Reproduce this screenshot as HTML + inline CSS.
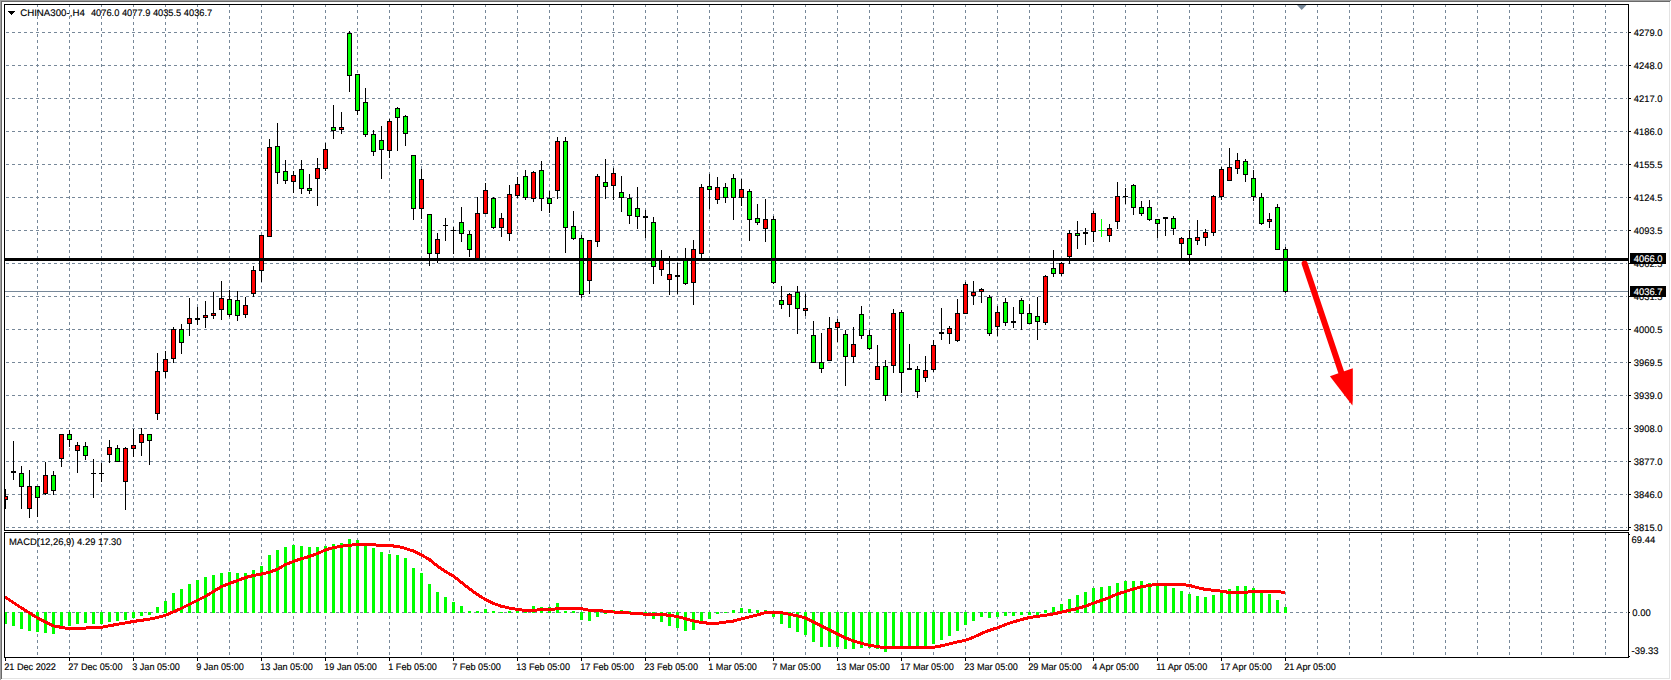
<!DOCTYPE html>
<html lang="en"><head><meta charset="utf-8"><title>CHINA300-,H4</title>
<style>html,body{margin:0;padding:0;background:#fff;overflow:hidden}svg{display:block}text{font-family:"Liberation Sans",Arial,sans-serif;font-size:9.5px;fill:#000;stroke:#000;stroke-width:.15px}.g{stroke:#778899;stroke-width:1;stroke-dasharray:3 3;fill:none}.k{fill:#000}.r{fill:#f00}.l{fill:#0f0}.w{fill:#fff}</style></head><body>
<svg width="1671" height="680" viewBox="0 0 1671 680" shape-rendering="crispEdges">
<rect width="1671" height="680" fill="#fff"/>
<rect x="0" y="0" width="1671" height="1" fill="#a0a0a0"/><rect x="0" y="0" width="1" height="680" fill="#a0a0a0"/>
<rect x="1" y="1" width="1669" height="1" fill="#696969"/><rect x="1" y="1" width="1" height="678" fill="#696969"/>
<rect x="1669" y="2" width="1" height="677" fill="#e3e3e3"/><rect x="2" y="678" width="1668" height="1" fill="#e3e3e3"/>
<g class="g">
<line x1="6" y1="32.5" x2="1627" y2="32.5"/>
<line x1="6" y1="65.5" x2="1627" y2="65.5"/>
<line x1="6" y1="98.5" x2="1627" y2="98.5"/>
<line x1="6" y1="131.5" x2="1627" y2="131.5"/>
<line x1="6" y1="164.5" x2="1627" y2="164.5"/>
<line x1="6" y1="197.5" x2="1627" y2="197.5"/>
<line x1="6" y1="230.5" x2="1627" y2="230.5"/>
<line x1="6" y1="263.5" x2="1627" y2="263.5"/>
<line x1="6" y1="296.5" x2="1627" y2="296.5"/>
<line x1="6" y1="329.5" x2="1627" y2="329.5"/>
<line x1="6" y1="362.5" x2="1627" y2="362.5"/>
<line x1="6" y1="395.5" x2="1627" y2="395.5"/>
<line x1="6" y1="428.5" x2="1627" y2="428.5"/>
<line x1="6" y1="461.5" x2="1627" y2="461.5"/>
<line x1="6" y1="494.5" x2="1627" y2="494.5"/>
<line x1="6" y1="527.5" x2="1627" y2="527.5"/>
<line x1="6" y1="612.5" x2="1627" y2="612.5"/>
<line x1="37.5" y1="4" x2="37.5" y2="657"/>
<line x1="69.5" y1="4" x2="69.5" y2="657"/>
<line x1="101.5" y1="4" x2="101.5" y2="657"/>
<line x1="133.5" y1="4" x2="133.5" y2="657"/>
<line x1="165.5" y1="4" x2="165.5" y2="657"/>
<line x1="197.5" y1="4" x2="197.5" y2="657"/>
<line x1="229.5" y1="4" x2="229.5" y2="657"/>
<line x1="261.5" y1="4" x2="261.5" y2="657"/>
<line x1="293.5" y1="4" x2="293.5" y2="657"/>
<line x1="325.5" y1="4" x2="325.5" y2="657"/>
<line x1="357.5" y1="4" x2="357.5" y2="657"/>
<line x1="389.5" y1="4" x2="389.5" y2="657"/>
<line x1="421.5" y1="4" x2="421.5" y2="657"/>
<line x1="453.5" y1="4" x2="453.5" y2="657"/>
<line x1="485.5" y1="4" x2="485.5" y2="657"/>
<line x1="517.5" y1="4" x2="517.5" y2="657"/>
<line x1="549.5" y1="4" x2="549.5" y2="657"/>
<line x1="581.5" y1="4" x2="581.5" y2="657"/>
<line x1="613.5" y1="4" x2="613.5" y2="657"/>
<line x1="645.5" y1="4" x2="645.5" y2="657"/>
<line x1="677.5" y1="4" x2="677.5" y2="657"/>
<line x1="709.5" y1="4" x2="709.5" y2="657"/>
<line x1="741.5" y1="4" x2="741.5" y2="657"/>
<line x1="773.5" y1="4" x2="773.5" y2="657"/>
<line x1="805.5" y1="4" x2="805.5" y2="657"/>
<line x1="837.5" y1="4" x2="837.5" y2="657"/>
<line x1="869.5" y1="4" x2="869.5" y2="657"/>
<line x1="901.5" y1="4" x2="901.5" y2="657"/>
<line x1="933.5" y1="4" x2="933.5" y2="657"/>
<line x1="965.5" y1="4" x2="965.5" y2="657"/>
<line x1="997.5" y1="4" x2="997.5" y2="657"/>
<line x1="1029.5" y1="4" x2="1029.5" y2="657"/>
<line x1="1061.5" y1="4" x2="1061.5" y2="657"/>
<line x1="1093.5" y1="4" x2="1093.5" y2="657"/>
<line x1="1125.5" y1="4" x2="1125.5" y2="657"/>
<line x1="1157.5" y1="4" x2="1157.5" y2="657"/>
<line x1="1189.5" y1="4" x2="1189.5" y2="657"/>
<line x1="1221.5" y1="4" x2="1221.5" y2="657"/>
<line x1="1253.5" y1="4" x2="1253.5" y2="657"/>
<line x1="1285.5" y1="4" x2="1285.5" y2="657"/>
<line x1="1317.5" y1="4" x2="1317.5" y2="657"/>
<line x1="1349.5" y1="4" x2="1349.5" y2="657"/>
<line x1="1381.5" y1="4" x2="1381.5" y2="657"/>
<line x1="1413.5" y1="4" x2="1413.5" y2="657"/>
<line x1="1445.5" y1="4" x2="1445.5" y2="657"/>
<line x1="1477.5" y1="4" x2="1477.5" y2="657"/>
<line x1="1509.5" y1="4" x2="1509.5" y2="657"/>
<line x1="1541.5" y1="4" x2="1541.5" y2="657"/>
<line x1="1573.5" y1="4" x2="1573.5" y2="657"/>
<line x1="1605.5" y1="4" x2="1605.5" y2="657"/>
</g>
<rect x="5" y="291" width="1623" height="1" fill="#778899"/>
<g class="l">
<rect x="4" y="612" width="3" height="12"/>
<rect x="12" y="612" width="3" height="14"/>
<rect x="20" y="612" width="3" height="17"/>
<rect x="28" y="612" width="3" height="19"/>
<rect x="36" y="612" width="3" height="20"/>
<rect x="44" y="612" width="3" height="21"/>
<rect x="52" y="612" width="3" height="22"/>
<rect x="60" y="612" width="3" height="17"/>
<rect x="68" y="612" width="3" height="14"/>
<rect x="76" y="612" width="3" height="12"/>
<rect x="84" y="612" width="3" height="11"/>
<rect x="92" y="612" width="3" height="12"/>
<rect x="100" y="612" width="3" height="12"/>
<rect x="108" y="612" width="3" height="10"/>
<rect x="116" y="612" width="3" height="9"/>
<rect x="124" y="612" width="3" height="8"/>
<rect x="132" y="612" width="3" height="6"/>
<rect x="140" y="612" width="3" height="4"/>
<rect x="148" y="612" width="3" height="3"/>
<rect x="156" y="607" width="3" height="6"/>
<rect x="164" y="601" width="3" height="12"/>
<rect x="172" y="593" width="3" height="20"/>
<rect x="180" y="589" width="3" height="24"/>
<rect x="188" y="584" width="3" height="29"/>
<rect x="196" y="580" width="3" height="33"/>
<rect x="204" y="577" width="3" height="36"/>
<rect x="212" y="575" width="3" height="38"/>
<rect x="220" y="573" width="3" height="40"/>
<rect x="228" y="572" width="3" height="41"/>
<rect x="236" y="573" width="3" height="40"/>
<rect x="244" y="573" width="3" height="40"/>
<rect x="252" y="570" width="3" height="43"/>
<rect x="260" y="566" width="3" height="47"/>
<rect x="268" y="555" width="3" height="58"/>
<rect x="276" y="550" width="3" height="63"/>
<rect x="284" y="547" width="3" height="66"/>
<rect x="292" y="545" width="3" height="68"/>
<rect x="300" y="546" width="3" height="67"/>
<rect x="308" y="547" width="3" height="66"/>
<rect x="316" y="547" width="3" height="66"/>
<rect x="324" y="546" width="3" height="67"/>
<rect x="332" y="544" width="3" height="69"/>
<rect x="340" y="543" width="3" height="70"/>
<rect x="348" y="539" width="3" height="74"/>
<rect x="356" y="540" width="3" height="73"/>
<rect x="364" y="545" width="3" height="68"/>
<rect x="372" y="548" width="3" height="65"/>
<rect x="380" y="552" width="3" height="61"/>
<rect x="388" y="554" width="3" height="59"/>
<rect x="396" y="555" width="3" height="58"/>
<rect x="404" y="558" width="3" height="55"/>
<rect x="412" y="568" width="3" height="45"/>
<rect x="420" y="573" width="3" height="40"/>
<rect x="428" y="584" width="3" height="29"/>
<rect x="436" y="592" width="3" height="21"/>
<rect x="444" y="597" width="3" height="16"/>
<rect x="452" y="602" width="3" height="11"/>
<rect x="460" y="606" width="3" height="7"/>
<rect x="468" y="611" width="3" height="2"/>
<rect x="476" y="611" width="3" height="2"/>
<rect x="484" y="609" width="3" height="4"/>
<rect x="492" y="611" width="3" height="2"/>
<rect x="500" y="612" width="3" height="1"/>
<rect x="508" y="611" width="3" height="2"/>
<rect x="516" y="610" width="3" height="3"/>
<rect x="524" y="610" width="3" height="3"/>
<rect x="532" y="606" width="3" height="7"/>
<rect x="540" y="607" width="3" height="6"/>
<rect x="548" y="607" width="3" height="6"/>
<rect x="556" y="603" width="3" height="10"/>
<rect x="564" y="611" width="3" height="2"/>
<rect x="572" y="611" width="3" height="2"/>
<rect x="580" y="612" width="3" height="8"/>
<rect x="588" y="612" width="3" height="9"/>
<rect x="596" y="612" width="3" height="5"/>
<rect x="604" y="612" width="3" height="2"/>
<rect x="612" y="610" width="3" height="3"/>
<rect x="620" y="610" width="3" height="3"/>
<rect x="628" y="611" width="3" height="2"/>
<rect x="636" y="612" width="3" height="1"/>
<rect x="644" y="612" width="3" height="2"/>
<rect x="652" y="612" width="3" height="7"/>
<rect x="660" y="612" width="3" height="10"/>
<rect x="668" y="612" width="3" height="14"/>
<rect x="676" y="612" width="3" height="16"/>
<rect x="684" y="612" width="3" height="19"/>
<rect x="692" y="612" width="3" height="18"/>
<rect x="700" y="612" width="3" height="9"/>
<rect x="708" y="612" width="3" height="7"/>
<rect x="716" y="612" width="3" height="2"/>
<rect x="724" y="612" width="3" height="1"/>
<rect x="732" y="610" width="3" height="3"/>
<rect x="740" y="608" width="3" height="5"/>
<rect x="748" y="609" width="3" height="4"/>
<rect x="756" y="610" width="3" height="3"/>
<rect x="764" y="610" width="3" height="3"/>
<rect x="772" y="612" width="3" height="5"/>
<rect x="780" y="612" width="3" height="12"/>
<rect x="788" y="612" width="3" height="16"/>
<rect x="796" y="612" width="3" height="20"/>
<rect x="804" y="612" width="3" height="23"/>
<rect x="812" y="612" width="3" height="30"/>
<rect x="820" y="612" width="3" height="35"/>
<rect x="828" y="612" width="3" height="35"/>
<rect x="836" y="612" width="3" height="35"/>
<rect x="844" y="612" width="3" height="37"/>
<rect x="852" y="612" width="3" height="37"/>
<rect x="860" y="612" width="3" height="36"/>
<rect x="868" y="612" width="3" height="36"/>
<rect x="876" y="612" width="3" height="37"/>
<rect x="884" y="612" width="3" height="40"/>
<rect x="892" y="612" width="3" height="36"/>
<rect x="900" y="612" width="3" height="37"/>
<rect x="908" y="612" width="3" height="37"/>
<rect x="916" y="612" width="3" height="36"/>
<rect x="924" y="612" width="3" height="35"/>
<rect x="932" y="612" width="3" height="32"/>
<rect x="940" y="612" width="3" height="28"/>
<rect x="948" y="612" width="3" height="24"/>
<rect x="956" y="612" width="3" height="19"/>
<rect x="964" y="612" width="3" height="13"/>
<rect x="972" y="612" width="3" height="9"/>
<rect x="980" y="612" width="3" height="5"/>
<rect x="988" y="612" width="3" height="6"/>
<rect x="996" y="612" width="3" height="5"/>
<rect x="1004" y="612" width="3" height="4"/>
<rect x="1012" y="612" width="3" height="4"/>
<rect x="1020" y="612" width="3" height="3"/>
<rect x="1028" y="612" width="3" height="3"/>
<rect x="1036" y="612" width="3" height="3"/>
<rect x="1044" y="610" width="3" height="3"/>
<rect x="1052" y="607" width="3" height="6"/>
<rect x="1060" y="604" width="3" height="9"/>
<rect x="1068" y="599" width="3" height="14"/>
<rect x="1076" y="595" width="3" height="18"/>
<rect x="1084" y="592" width="3" height="21"/>
<rect x="1092" y="588" width="3" height="25"/>
<rect x="1100" y="587" width="3" height="26"/>
<rect x="1108" y="586" width="3" height="27"/>
<rect x="1116" y="583" width="3" height="30"/>
<rect x="1124" y="581" width="3" height="32"/>
<rect x="1132" y="581" width="3" height="32"/>
<rect x="1140" y="581" width="3" height="32"/>
<rect x="1148" y="583" width="3" height="30"/>
<rect x="1156" y="584" width="3" height="29"/>
<rect x="1164" y="585" width="3" height="28"/>
<rect x="1172" y="588" width="3" height="25"/>
<rect x="1180" y="591" width="3" height="22"/>
<rect x="1188" y="594" width="3" height="19"/>
<rect x="1196" y="596" width="3" height="17"/>
<rect x="1204" y="597" width="3" height="16"/>
<rect x="1212" y="595" width="3" height="18"/>
<rect x="1220" y="591" width="3" height="22"/>
<rect x="1228" y="589" width="3" height="24"/>
<rect x="1236" y="586" width="3" height="27"/>
<rect x="1244" y="586" width="3" height="27"/>
<rect x="1252" y="588" width="3" height="25"/>
<rect x="1260" y="592" width="3" height="21"/>
<rect x="1268" y="594" width="3" height="19"/>
<rect x="1276" y="600" width="3" height="13"/>
<rect x="1284" y="607" width="3" height="6"/>
</g>
<rect x="1101" y="219" width="1" height="18" fill="#0f0"/><rect x="1099" y="230" width="5" height="1" fill="#0f0"/>
<g class="k"><rect x="5" y="489" width="1" height="20"/><rect x="13" y="441" width="1" height="39"/><rect x="21" y="466" width="1" height="43"/><rect x="29" y="470" width="1" height="48"/><rect x="37" y="486" width="1" height="31"/><rect x="45" y="462" width="1" height="33"/><rect x="53" y="471" width="1" height="24"/><rect x="61" y="434" width="1" height="33"/><rect x="69" y="430" width="1" height="17"/><rect x="77" y="442" width="1" height="31"/><rect x="85" y="442" width="1" height="18"/><rect x="93" y="459" width="1" height="39"/><rect x="101" y="463" width="1" height="19"/><rect x="109" y="440" width="1" height="23"/><rect x="117" y="445" width="1" height="17"/><rect x="125" y="447" width="1" height="63"/><rect x="133" y="429" width="1" height="28"/><rect x="141" y="428" width="1" height="28"/><rect x="149" y="434" width="1" height="31"/><rect x="157" y="353" width="1" height="67"/><rect x="165" y="351" width="1" height="27"/><rect x="173" y="327" width="1" height="36"/><rect x="181" y="324" width="1" height="30"/><rect x="189" y="298" width="1" height="38"/><rect x="197" y="307" width="1" height="18"/><rect x="205" y="301" width="1" height="27"/><rect x="213" y="292" width="1" height="27"/><rect x="221" y="281" width="1" height="39"/><rect x="229" y="290" width="1" height="27"/><rect x="237" y="291" width="1" height="30"/><rect x="245" y="297" width="1" height="21"/><rect x="253" y="266" width="1" height="31"/><rect x="261" y="235" width="1" height="47"/><rect x="269" y="139" width="1" height="98"/><rect x="277" y="123" width="1" height="61"/><rect x="285" y="160" width="1" height="24"/><rect x="293" y="171" width="1" height="22"/><rect x="301" y="160" width="1" height="34"/><rect x="309" y="174" width="1" height="20"/><rect x="317" y="158" width="1" height="48"/><rect x="325" y="143" width="1" height="28"/><rect x="333" y="105" width="1" height="34"/><rect x="341" y="112" width="1" height="22"/><rect x="349" y="31" width="1" height="61"/><rect x="357" y="74" width="1" height="41"/><rect x="365" y="88" width="1" height="49"/><rect x="373" y="130" width="1" height="26"/><rect x="381" y="126" width="1" height="53"/><rect x="389" y="119" width="1" height="39"/><rect x="397" y="107" width="1" height="44"/><rect x="405" y="115" width="1" height="31"/><rect x="413" y="155" width="1" height="65"/><rect x="421" y="169" width="1" height="50"/><rect x="429" y="214" width="1" height="52"/><rect x="437" y="233" width="1" height="30"/><rect x="445" y="218" width="1" height="23"/><rect x="453" y="227" width="1" height="27"/><rect x="461" y="207" width="1" height="35"/><rect x="469" y="231" width="1" height="26"/><rect x="477" y="197" width="1" height="63"/><rect x="485" y="183" width="1" height="31"/><rect x="493" y="197" width="1" height="32"/><rect x="501" y="213" width="1" height="24"/><rect x="509" y="185" width="1" height="56"/><rect x="517" y="177" width="1" height="21"/><rect x="525" y="170" width="1" height="30"/><rect x="533" y="171" width="1" height="31"/><rect x="541" y="161" width="1" height="50"/><rect x="549" y="191" width="1" height="22"/><rect x="557" y="137" width="1" height="62"/><rect x="565" y="137" width="1" height="116"/><rect x="573" y="211" width="1" height="29"/><rect x="581" y="235" width="1" height="63"/><rect x="589" y="240" width="1" height="54"/><rect x="597" y="174" width="1" height="73"/><rect x="605" y="159" width="1" height="40"/><rect x="613" y="168" width="1" height="32"/><rect x="621" y="176" width="1" height="36"/><rect x="629" y="194" width="1" height="30"/><rect x="637" y="187" width="1" height="42"/><rect x="645" y="210" width="1" height="28"/><rect x="653" y="217" width="1" height="67"/><rect x="661" y="250" width="1" height="26"/><rect x="669" y="256" width="1" height="39"/><rect x="677" y="263" width="1" height="31"/><rect x="685" y="248" width="1" height="37"/><rect x="693" y="240" width="1" height="65"/><rect x="701" y="184" width="1" height="74"/><rect x="709" y="174" width="1" height="35"/><rect x="717" y="177" width="1" height="27"/><rect x="725" y="183" width="1" height="20"/><rect x="733" y="174" width="1" height="46"/><rect x="741" y="179" width="1" height="27"/><rect x="749" y="189" width="1" height="52"/><rect x="757" y="204" width="1" height="21"/><rect x="765" y="199" width="1" height="43"/><rect x="773" y="216" width="1" height="68"/><rect x="781" y="286" width="1" height="23"/><rect x="789" y="293" width="1" height="24"/><rect x="797" y="286" width="1" height="48"/><rect x="805" y="294" width="1" height="22"/><rect x="813" y="321" width="1" height="42"/><rect x="821" y="333" width="1" height="40"/><rect x="829" y="317" width="1" height="44"/><rect x="837" y="319" width="1" height="23"/><rect x="845" y="330" width="1" height="56"/><rect x="853" y="327" width="1" height="36"/><rect x="861" y="306" width="1" height="33"/><rect x="869" y="330" width="1" height="20"/><rect x="877" y="345" width="1" height="35"/><rect x="885" y="360" width="1" height="41"/><rect x="893" y="309" width="1" height="64"/><rect x="901" y="310" width="1" height="83"/><rect x="909" y="344" width="1" height="26"/><rect x="917" y="366" width="1" height="32"/><rect x="925" y="356" width="1" height="26"/><rect x="933" y="340" width="1" height="32"/><rect x="941" y="308" width="1" height="32"/><rect x="949" y="326" width="1" height="18"/><rect x="957" y="299" width="1" height="43"/><rect x="965" y="282" width="1" height="32"/><rect x="973" y="281" width="1" height="24"/><rect x="981" y="288" width="1" height="15"/><rect x="989" y="295" width="1" height="41"/><rect x="997" y="306" width="1" height="30"/><rect x="1005" y="298" width="1" height="28"/><rect x="1013" y="307" width="1" height="21"/><rect x="1021" y="298" width="1" height="32"/><rect x="1029" y="304" width="1" height="20"/><rect x="1037" y="297" width="1" height="43"/><rect x="1045" y="275" width="1" height="50"/><rect x="1053" y="250" width="1" height="27"/><rect x="1061" y="262" width="1" height="14"/><rect x="1069" y="230" width="1" height="34"/><rect x="1077" y="221" width="1" height="28"/><rect x="1085" y="228" width="1" height="17"/><rect x="1093" y="211" width="1" height="31"/><rect x="1109" y="224" width="1" height="18"/><rect x="1117" y="182" width="1" height="47"/><rect x="1125" y="188" width="1" height="16"/><rect x="1133" y="184" width="1" height="31"/><rect x="1141" y="201" width="1" height="15"/><rect x="1149" y="200" width="1" height="21"/><rect x="1157" y="219" width="1" height="19"/><rect x="1165" y="217" width="1" height="19"/><rect x="1173" y="216" width="1" height="19"/><rect x="1181" y="237" width="1" height="21"/><rect x="1189" y="230" width="1" height="35"/><rect x="1197" y="220" width="1" height="25"/><rect x="1205" y="229" width="1" height="17"/><rect x="1213" y="195" width="1" height="41"/><rect x="1221" y="167" width="1" height="33"/><rect x="1229" y="148" width="1" height="33"/><rect x="1237" y="153" width="1" height="21"/><rect x="1245" y="159" width="1" height="23"/><rect x="1253" y="170" width="1" height="31"/><rect x="1261" y="193" width="1" height="32"/><rect x="1269" y="213" width="1" height="15"/><rect x="1277" y="204" width="1" height="46"/><rect x="1285" y="247" width="1" height="46"/><rect x="3" y="496" width="5" height="4"/><rect x="11" y="471" width="5" height="2"/><rect x="19" y="473" width="5" height="14"/><rect x="27" y="486" width="5" height="23"/><rect x="35" y="486" width="5" height="12"/><rect x="43" y="475" width="5" height="19"/><rect x="51" y="475" width="5" height="16"/><rect x="59" y="434" width="5" height="25"/><rect x="67" y="434" width="5" height="6"/><rect x="75" y="445" width="5" height="6"/><rect x="83" y="446" width="5" height="10"/><rect x="91" y="473" width="5" height="1"/><rect x="99" y="473" width="5" height="1"/><rect x="107" y="447" width="5" height="8"/><rect x="115" y="448" width="5" height="14"/><rect x="123" y="448" width="5" height="34"/><rect x="131" y="445" width="5" height="4"/><rect x="139" y="434" width="5" height="9"/><rect x="147" y="434" width="5" height="7"/><rect x="155" y="371" width="5" height="43"/><rect x="163" y="359" width="5" height="13"/><rect x="171" y="329" width="5" height="30"/><rect x="179" y="329" width="5" height="14"/><rect x="187" y="318" width="5" height="6"/><rect x="195" y="318" width="5" height="2"/><rect x="203" y="315" width="5" height="3"/><rect x="211" y="313" width="5" height="3"/><rect x="219" y="298" width="5" height="12"/><rect x="227" y="299" width="5" height="16"/><rect x="235" y="300" width="5" height="16"/><rect x="243" y="305" width="5" height="10"/><rect x="251" y="270" width="5" height="24"/><rect x="259" y="235" width="5" height="36"/><rect x="267" y="147" width="5" height="90"/><rect x="275" y="146" width="5" height="27"/><rect x="283" y="171" width="5" height="10"/><rect x="291" y="175" width="5" height="7"/><rect x="299" y="169" width="5" height="20"/><rect x="307" y="188" width="5" height="3"/><rect x="315" y="168" width="5" height="11"/><rect x="323" y="149" width="5" height="20"/><rect x="331" y="127" width="5" height="4"/><rect x="339" y="127" width="5" height="3"/><rect x="347" y="33" width="5" height="43"/><rect x="355" y="74" width="5" height="37"/><rect x="363" y="102" width="5" height="33"/><rect x="371" y="134" width="5" height="18"/><rect x="379" y="140" width="5" height="10"/><rect x="387" y="121" width="5" height="30"/><rect x="395" y="108" width="5" height="10"/><rect x="403" y="116" width="5" height="18"/><rect x="411" y="155" width="5" height="54"/><rect x="419" y="179" width="5" height="30"/><rect x="427" y="214" width="5" height="40"/><rect x="435" y="239" width="5" height="15"/><rect x="443" y="225" width="5" height="1"/><rect x="451" y="230" width="5" height="1"/><rect x="459" y="222" width="5" height="12"/><rect x="467" y="234" width="5" height="16"/><rect x="475" y="213" width="5" height="47"/><rect x="483" y="190" width="5" height="24"/><rect x="491" y="198" width="5" height="30"/><rect x="499" y="218" width="5" height="10"/><rect x="507" y="194" width="5" height="40"/><rect x="515" y="184" width="5" height="12"/><rect x="523" y="176" width="5" height="22"/><rect x="531" y="172" width="5" height="27"/><rect x="539" y="170" width="5" height="29"/><rect x="547" y="198" width="5" height="6"/><rect x="555" y="141" width="5" height="50"/><rect x="563" y="141" width="5" height="87"/><rect x="571" y="226" width="5" height="13"/><rect x="579" y="238" width="5" height="57"/><rect x="587" y="240" width="5" height="41"/><rect x="595" y="176" width="5" height="66"/><rect x="603" y="182" width="5" height="5"/><rect x="611" y="173" width="5" height="13"/><rect x="619" y="192" width="5" height="6"/><rect x="627" y="198" width="5" height="18"/><rect x="635" y="208" width="5" height="9"/><rect x="643" y="216" width="5" height="2"/><rect x="651" y="222" width="5" height="45"/><rect x="659" y="259" width="5" height="11"/><rect x="667" y="274" width="5" height="6"/><rect x="675" y="275" width="5" height="2"/><rect x="683" y="259" width="5" height="25"/><rect x="691" y="249" width="5" height="34"/><rect x="699" y="187" width="5" height="67"/><rect x="707" y="186" width="5" height="4"/><rect x="715" y="187" width="5" height="13"/><rect x="723" y="187" width="5" height="11"/><rect x="731" y="178" width="5" height="20"/><rect x="739" y="189" width="5" height="9"/><rect x="747" y="191" width="5" height="29"/><rect x="755" y="218" width="5" height="5"/><rect x="763" y="219" width="5" height="10"/><rect x="771" y="219" width="5" height="64"/><rect x="779" y="300" width="5" height="5"/><rect x="787" y="294" width="5" height="11"/><rect x="795" y="292" width="5" height="17"/><rect x="803" y="308" width="5" height="3"/><rect x="811" y="335" width="5" height="28"/><rect x="819" y="362" width="5" height="7"/><rect x="827" y="328" width="5" height="33"/><rect x="835" y="322" width="5" height="6"/><rect x="843" y="334" width="5" height="23"/><rect x="851" y="344" width="5" height="13"/><rect x="859" y="314" width="5" height="22"/><rect x="867" y="335" width="5" height="14"/><rect x="875" y="366" width="5" height="14"/><rect x="883" y="366" width="5" height="30"/><rect x="891" y="313" width="5" height="53"/><rect x="899" y="312" width="5" height="61"/><rect x="907" y="368" width="5" height="2"/><rect x="915" y="369" width="5" height="23"/><rect x="923" y="370" width="5" height="8"/><rect x="931" y="345" width="5" height="25"/><rect x="939" y="332" width="5" height="2"/><rect x="947" y="328" width="5" height="6"/><rect x="955" y="313" width="5" height="28"/><rect x="963" y="284" width="5" height="30"/><rect x="971" y="292" width="5" height="4"/><rect x="979" y="289" width="5" height="3"/><rect x="987" y="297" width="5" height="37"/><rect x="995" y="312" width="5" height="15"/><rect x="1003" y="302" width="5" height="21"/><rect x="1011" y="321" width="5" height="2"/><rect x="1019" y="300" width="5" height="14"/><rect x="1027" y="313" width="5" height="11"/><rect x="1035" y="316" width="5" height="6"/><rect x="1043" y="276" width="5" height="47"/><rect x="1051" y="268" width="5" height="6"/><rect x="1059" y="263" width="5" height="11"/><rect x="1067" y="233" width="5" height="24"/><rect x="1075" y="233" width="5" height="3"/><rect x="1083" y="232" width="5" height="2"/><rect x="1091" y="213" width="5" height="19"/><rect x="1107" y="228" width="5" height="8"/><rect x="1115" y="196" width="5" height="26"/><rect x="1123" y="196" width="5" height="1"/><rect x="1131" y="185" width="5" height="23"/><rect x="1139" y="207" width="5" height="7"/><rect x="1147" y="207" width="5" height="13"/><rect x="1155" y="219" width="5" height="5"/><rect x="1163" y="217" width="5" height="2"/><rect x="1171" y="218" width="5" height="11"/><rect x="1179" y="238" width="5" height="6"/><rect x="1187" y="238" width="5" height="17"/><rect x="1195" y="237" width="5" height="4"/><rect x="1203" y="232" width="5" height="6"/><rect x="1211" y="196" width="5" height="37"/><rect x="1219" y="169" width="5" height="28"/><rect x="1227" y="167" width="5" height="14"/><rect x="1235" y="160" width="5" height="9"/><rect x="1243" y="161" width="5" height="14"/><rect x="1251" y="178" width="5" height="19"/><rect x="1259" y="197" width="5" height="27"/><rect x="1267" y="219" width="5" height="3"/><rect x="1275" y="207" width="5" height="43"/><rect x="1283" y="249" width="5" height="43"/></g>
<g class="r"><rect x="4" y="497" width="3" height="2"/><rect x="28" y="487" width="3" height="21"/><rect x="44" y="476" width="3" height="17"/><rect x="60" y="435" width="3" height="23"/><rect x="76" y="446" width="3" height="4"/><rect x="108" y="448" width="3" height="6"/><rect x="124" y="449" width="3" height="32"/><rect x="132" y="446" width="3" height="2"/><rect x="140" y="435" width="3" height="7"/><rect x="156" y="372" width="3" height="41"/><rect x="164" y="360" width="3" height="11"/><rect x="172" y="330" width="3" height="28"/><rect x="188" y="319" width="3" height="4"/><rect x="204" y="316" width="3" height="1"/><rect x="212" y="314" width="3" height="1"/><rect x="220" y="299" width="3" height="10"/><rect x="244" y="306" width="3" height="8"/><rect x="252" y="271" width="3" height="22"/><rect x="260" y="236" width="3" height="34"/><rect x="268" y="148" width="3" height="88"/><rect x="292" y="176" width="3" height="5"/><rect x="316" y="169" width="3" height="9"/><rect x="324" y="150" width="3" height="18"/><rect x="340" y="128" width="3" height="1"/><rect x="388" y="122" width="3" height="28"/><rect x="420" y="180" width="3" height="28"/><rect x="436" y="240" width="3" height="13"/><rect x="476" y="214" width="3" height="45"/><rect x="484" y="191" width="3" height="22"/><rect x="500" y="219" width="3" height="8"/><rect x="508" y="195" width="3" height="38"/><rect x="516" y="185" width="3" height="10"/><rect x="532" y="173" width="3" height="25"/><rect x="556" y="142" width="3" height="48"/><rect x="588" y="241" width="3" height="39"/><rect x="596" y="177" width="3" height="64"/><rect x="612" y="174" width="3" height="11"/><rect x="660" y="260" width="3" height="9"/><rect x="668" y="275" width="3" height="4"/><rect x="692" y="250" width="3" height="32"/><rect x="700" y="188" width="3" height="65"/><rect x="716" y="188" width="3" height="11"/><rect x="740" y="190" width="3" height="7"/><rect x="764" y="220" width="3" height="8"/><rect x="788" y="295" width="3" height="9"/><rect x="804" y="309" width="3" height="1"/><rect x="828" y="329" width="3" height="31"/><rect x="836" y="323" width="3" height="4"/><rect x="852" y="345" width="3" height="11"/><rect x="876" y="367" width="3" height="12"/><rect x="892" y="314" width="3" height="51"/><rect x="924" y="371" width="3" height="6"/><rect x="932" y="346" width="3" height="23"/><rect x="948" y="329" width="3" height="4"/><rect x="956" y="314" width="3" height="26"/><rect x="964" y="285" width="3" height="28"/><rect x="972" y="293" width="3" height="2"/><rect x="980" y="290" width="3" height="1"/><rect x="996" y="313" width="3" height="13"/><rect x="1044" y="277" width="3" height="45"/><rect x="1060" y="264" width="3" height="9"/><rect x="1068" y="234" width="3" height="22"/><rect x="1092" y="214" width="3" height="17"/><rect x="1108" y="229" width="3" height="6"/><rect x="1116" y="197" width="3" height="24"/><rect x="1180" y="239" width="3" height="4"/><rect x="1196" y="238" width="3" height="2"/><rect x="1204" y="233" width="3" height="4"/><rect x="1212" y="197" width="3" height="35"/><rect x="1220" y="170" width="3" height="26"/><rect x="1228" y="168" width="3" height="12"/><rect x="1236" y="161" width="3" height="7"/><rect x="1268" y="220" width="3" height="1"/></g>
<g class="l"><rect x="20" y="474" width="3" height="12"/><rect x="36" y="487" width="3" height="10"/><rect x="52" y="476" width="3" height="14"/><rect x="68" y="435" width="3" height="4"/><rect x="84" y="447" width="3" height="8"/><rect x="116" y="449" width="3" height="12"/><rect x="148" y="435" width="3" height="5"/><rect x="180" y="330" width="3" height="12"/><rect x="228" y="300" width="3" height="14"/><rect x="236" y="301" width="3" height="14"/><rect x="276" y="147" width="3" height="25"/><rect x="284" y="172" width="3" height="8"/><rect x="300" y="170" width="3" height="18"/><rect x="308" y="189" width="3" height="1"/><rect x="332" y="128" width="3" height="2"/><rect x="348" y="34" width="3" height="41"/><rect x="356" y="75" width="3" height="35"/><rect x="364" y="103" width="3" height="31"/><rect x="372" y="135" width="3" height="16"/><rect x="380" y="141" width="3" height="8"/><rect x="396" y="109" width="3" height="8"/><rect x="404" y="117" width="3" height="16"/><rect x="412" y="156" width="3" height="52"/><rect x="428" y="215" width="3" height="38"/><rect x="460" y="223" width="3" height="10"/><rect x="468" y="235" width="3" height="14"/><rect x="492" y="199" width="3" height="28"/><rect x="524" y="177" width="3" height="20"/><rect x="540" y="171" width="3" height="27"/><rect x="548" y="199" width="3" height="4"/><rect x="564" y="142" width="3" height="85"/><rect x="572" y="227" width="3" height="11"/><rect x="580" y="239" width="3" height="55"/><rect x="604" y="183" width="3" height="3"/><rect x="620" y="193" width="3" height="4"/><rect x="628" y="199" width="3" height="16"/><rect x="636" y="209" width="3" height="7"/><rect x="652" y="223" width="3" height="43"/><rect x="684" y="260" width="3" height="23"/><rect x="708" y="187" width="3" height="2"/><rect x="724" y="188" width="3" height="9"/><rect x="732" y="179" width="3" height="18"/><rect x="748" y="192" width="3" height="27"/><rect x="756" y="219" width="3" height="3"/><rect x="772" y="220" width="3" height="62"/><rect x="780" y="301" width="3" height="3"/><rect x="796" y="293" width="3" height="15"/><rect x="812" y="336" width="3" height="26"/><rect x="820" y="363" width="3" height="5"/><rect x="844" y="335" width="3" height="21"/><rect x="860" y="315" width="3" height="20"/><rect x="868" y="336" width="3" height="12"/><rect x="884" y="367" width="3" height="28"/><rect x="900" y="313" width="3" height="59"/><rect x="916" y="370" width="3" height="21"/><rect x="988" y="298" width="3" height="35"/><rect x="1004" y="303" width="3" height="19"/><rect x="1020" y="301" width="3" height="12"/><rect x="1028" y="314" width="3" height="9"/><rect x="1036" y="317" width="3" height="4"/><rect x="1052" y="269" width="3" height="4"/><rect x="1076" y="234" width="3" height="1"/><rect x="1132" y="186" width="3" height="21"/><rect x="1140" y="208" width="3" height="5"/><rect x="1148" y="208" width="3" height="11"/><rect x="1156" y="220" width="3" height="3"/><rect x="1172" y="219" width="3" height="9"/><rect x="1188" y="239" width="3" height="15"/><rect x="1244" y="162" width="3" height="12"/><rect x="1252" y="179" width="3" height="17"/><rect x="1260" y="198" width="3" height="25"/><rect x="1276" y="208" width="3" height="41"/><rect x="1284" y="250" width="3" height="41"/></g>
<rect class="w" x="2" y="5" width="2" height="660"/><rect class="w" x="4" y="531" width="1626" height="1"/>
<rect class="k" x="5" y="258" width="1624" height="3"/>
<polyline points="5.1,597.1 20.6,607.4 37.1,617.7 53.6,625.9 70.0,629.0 86.5,628.0 103.0,627.0 119.5,623.9 133.9,621.4 152.4,618.7 164.8,615.6 181.3,608.4 197.7,600.2 205.3,596.4 213.3,591.7 221.3,586.6 229.3,583.5 237.3,580.7 245.3,577.6 253.3,575.5 261.3,574.1 269.3,572.2 277.3,569.4 285.3,564.7 293.3,561.4 301.3,558.8 309.3,556.5 317.3,553.6 320.0,552.4 325.4,550.0 333.4,547.6 341.4,546.2 349.4,545.2 357.4,544.6 365.4,544.6 373.4,544.8 381.4,545.4 389.4,545.6 397.4,546.4 405.3,548.4 413.3,551.0 421.3,555.0 429.3,559.4 437.3,566.0 445.3,571.4 453.3,576.0 461.3,582.4 469.3,588.6 477.3,594.4 485.3,599.4 493.3,603.4 501.3,606.2 509.3,608.0 517.3,609.4 525.3,610.4 533.3,610.4 541.3,609.6 549.3,609.6 557.3,608.8 565.3,608.6 573.2,608.6 581.2,608.6 589.2,610.2 597.2,610.4 605.2,611.2 613.2,612.0 621.2,612.2 629.2,613.0 637.2,613.2 640.0,613.9 645.4,614.1 653.4,614.3 661.4,614.5 669.4,615.3 677.4,616.5 685.4,618.7 693.4,620.9 701.4,622.5 709.4,623.3 717.4,623.3 725.3,622.1 733.3,621.1 741.3,618.9 749.3,616.9 757.3,614.9 765.3,612.6 773.3,612.4 781.3,612.6 789.3,614.3 797.3,615.9 805.3,617.9 813.3,621.9 821.3,625.9 829.3,629.9 837.3,633.9 845.3,637.9 853.3,640.9 861.3,643.3 869.3,645.3 877.3,646.5 885.3,647.9 893.2,647.3 901.2,647.3 909.2,647.9 917.2,647.3 925.2,647.3 933.2,647.3 941.2,645.9 949.2,643.9 957.2,641.9 960.0,641.5 965.4,640.3 973.4,637.3 981.4,633.5 989.4,630.3 997.4,627.9 1005.4,624.5 1013.4,621.9 1021.4,619.5 1029.4,617.5 1037.4,616.3 1045.3,615.3 1053.3,613.9 1061.3,612.2 1069.3,610.4 1077.3,608.6 1085.3,606.2 1093.3,603.2 1101.3,600.4 1109.3,597.6 1117.3,594.0 1125.3,591.6 1133.3,589.0 1141.3,586.8 1149.3,585.4 1157.3,584.4 1165.3,584.4 1173.3,584.4 1181.3,584.4 1189.3,585.4 1197.3,587.6 1205.3,589.4 1213.2,590.2 1221.2,591.2 1229.2,592.4 1237.2,592.4 1245.2,592.4 1253.2,591.4 1261.2,591.4 1269.2,591.4 1277.2,591.4 1285.2,592.6" fill="none" stroke="#f00" stroke-width="3" stroke-linejoin="round" stroke-linecap="butt" shape-rendering="crispEdges"/>
<g shape-rendering="geometricPrecision"><line x1="1304.6" y1="263.5" x2="1341.3" y2="372.5" stroke="#f00" stroke-width="6" stroke-linecap="round"/><polygon points="1329.9,376.2 1352.8,368.3 1352.8,400 1352.4,405.6" fill="#f00"/></g>
<polygon points="1297,5 1306.5,5 1301.7,10" fill="#778899" shape-rendering="geometricPrecision"/>
<g class="k">
<rect x="4" y="4" width="1625" height="1"/><rect x="4" y="530" width="1625" height="1"/>
<rect x="4" y="532" width="1625" height="1"/><rect x="4" y="657" width="1625" height="1"/>
<rect x="4" y="4" width="1" height="527"/><rect x="4" y="532" width="1" height="126"/>
<rect x="1628" y="4" width="1" height="527"/><rect x="1628" y="532" width="1" height="126"/>
<rect x="1629" y="32" width="2" height="1"/>
<rect x="1629" y="65" width="2" height="1"/>
<rect x="1629" y="98" width="2" height="1"/>
<rect x="1629" y="131" width="2" height="1"/>
<rect x="1629" y="164" width="2" height="1"/>
<rect x="1629" y="197" width="2" height="1"/>
<rect x="1629" y="230" width="2" height="1"/>
<rect x="1629" y="263" width="2" height="1"/>
<rect x="1629" y="296" width="2" height="1"/>
<rect x="1629" y="329" width="2" height="1"/>
<rect x="1629" y="362" width="2" height="1"/>
<rect x="1629" y="395" width="2" height="1"/>
<rect x="1629" y="428" width="2" height="1"/>
<rect x="1629" y="461" width="2" height="1"/>
<rect x="1629" y="494" width="2" height="1"/>
<rect x="1629" y="527" width="2" height="1"/>
<rect x="1629" y="534" width="1" height="1"/><rect x="1629" y="612" width="1" height="1"/><rect x="1629" y="656" width="1" height="1"/>
<rect x="5" y="658" width="1" height="3"/>
<rect x="69" y="658" width="1" height="3"/>
<rect x="133" y="658" width="1" height="3"/>
<rect x="197" y="658" width="1" height="3"/>
<rect x="261" y="658" width="1" height="3"/>
<rect x="325" y="658" width="1" height="3"/>
<rect x="389" y="658" width="1" height="3"/>
<rect x="453" y="658" width="1" height="3"/>
<rect x="517" y="658" width="1" height="3"/>
<rect x="581" y="658" width="1" height="3"/>
<rect x="645" y="658" width="1" height="3"/>
<rect x="709" y="658" width="1" height="3"/>
<rect x="773" y="658" width="1" height="3"/>
<rect x="837" y="658" width="1" height="3"/>
<rect x="901" y="658" width="1" height="3"/>
<rect x="965" y="658" width="1" height="3"/>
<rect x="1029" y="658" width="1" height="3"/>
<rect x="1093" y="658" width="1" height="3"/>
<rect x="1157" y="658" width="1" height="3"/>
<rect x="1221" y="658" width="1" height="3"/>
<rect x="1285" y="658" width="1" height="3"/>
</g>
<g shape-rendering="geometricPrecision" text-rendering="geometricPrecision">
<text x="1633.8" y="36" textLength="28.6" lengthAdjust="spacingAndGlyphs">4279.0</text>
<text x="1633.8" y="69" textLength="28.6" lengthAdjust="spacingAndGlyphs">4248.0</text>
<text x="1633.8" y="102" textLength="28.6" lengthAdjust="spacingAndGlyphs">4217.0</text>
<text x="1633.8" y="135" textLength="28.6" lengthAdjust="spacingAndGlyphs">4186.0</text>
<text x="1633.8" y="168" textLength="28.6" lengthAdjust="spacingAndGlyphs">4155.5</text>
<text x="1633.8" y="201" textLength="28.6" lengthAdjust="spacingAndGlyphs">4124.5</text>
<text x="1633.8" y="234" textLength="28.6" lengthAdjust="spacingAndGlyphs">4093.5</text>
<text x="1633.8" y="267" textLength="28.6" lengthAdjust="spacingAndGlyphs">4062.5</text>
<text x="1633.8" y="300" textLength="28.6" lengthAdjust="spacingAndGlyphs">4031.5</text>
<text x="1633.8" y="333" textLength="28.6" lengthAdjust="spacingAndGlyphs">4000.5</text>
<text x="1633.8" y="366" textLength="28.6" lengthAdjust="spacingAndGlyphs">3969.5</text>
<text x="1633.8" y="399" textLength="28.6" lengthAdjust="spacingAndGlyphs">3939.0</text>
<text x="1633.8" y="432" textLength="28.6" lengthAdjust="spacingAndGlyphs">3908.0</text>
<text x="1633.8" y="465" textLength="28.6" lengthAdjust="spacingAndGlyphs">3877.0</text>
<text x="1633.8" y="498" textLength="28.6" lengthAdjust="spacingAndGlyphs">3846.0</text>
<text x="1633.8" y="531" textLength="28.6" lengthAdjust="spacingAndGlyphs">3815.0</text>
<text x="1631.6" y="543" textLength="23.6" lengthAdjust="spacingAndGlyphs">69.44</text>
<text x="1632.3" y="616" textLength="18.4" lengthAdjust="spacingAndGlyphs">0.00</text>
<text x="1631.6" y="654" textLength="26.8" lengthAdjust="spacingAndGlyphs">-39.33</text>
<rect class="k" x="1630" y="253" width="36" height="11"/><text x="1633.8" y="262" textLength="28.6" lengthAdjust="spacingAndGlyphs" style="fill:#fff;stroke:#fff">4066.0</text>
<rect class="k" x="1630" y="286" width="36" height="11"/><text x="1633.8" y="295" textLength="28.6" lengthAdjust="spacingAndGlyphs" style="fill:#fff;stroke:#fff">4036.7</text>
<g class="k" shape-rendering="crispEdges"><rect x="8" y="11" width="7" height="1"/><rect x="9" y="12" width="5" height="1"/><rect x="10" y="13" width="3" height="1"/><rect x="11" y="14" width="1" height="1"/></g>
<text x="20.2" y="16" textLength="64.6" lengthAdjust="spacingAndGlyphs">CHINA300-,H4</text>
<text x="90.9" y="16" textLength="121.4" lengthAdjust="spacingAndGlyphs">4076.0 4077.9 4035.5 4036.7</text>
<text x="9" y="545" textLength="112.6" lengthAdjust="spacingAndGlyphs">MACD(12,26,9) 4.29 17.30</text>
<text transform="translate(4.2 670) scale(0.96 1)">21 Dec 2022</text>
<text transform="translate(68.2 670) scale(0.96 1)">27 Dec 05:00</text>
<text transform="translate(132.2 670) scale(0.96 1)">3 Jan 05:00</text>
<text transform="translate(196.2 670) scale(0.96 1)">9 Jan 05:00</text>
<text transform="translate(260.2 670) scale(0.96 1)">13 Jan 05:00</text>
<text transform="translate(324.2 670) scale(0.96 1)">19 Jan 05:00</text>
<text transform="translate(388.2 670) scale(0.96 1)">1 Feb 05:00</text>
<text transform="translate(452.2 670) scale(0.96 1)">7 Feb 05:00</text>
<text transform="translate(516.2 670) scale(0.96 1)">13 Feb 05:00</text>
<text transform="translate(580.2 670) scale(0.96 1)">17 Feb 05:00</text>
<text transform="translate(644.2 670) scale(0.96 1)">23 Feb 05:00</text>
<text transform="translate(708.2 670) scale(0.96 1)">1 Mar 05:00</text>
<text transform="translate(772.2 670) scale(0.96 1)">7 Mar 05:00</text>
<text transform="translate(836.2 670) scale(0.96 1)">13 Mar 05:00</text>
<text transform="translate(900.2 670) scale(0.96 1)">17 Mar 05:00</text>
<text transform="translate(964.2 670) scale(0.96 1)">23 Mar 05:00</text>
<text transform="translate(1028.2 670) scale(0.96 1)">29 Mar 05:00</text>
<text transform="translate(1092.2 670) scale(0.96 1)">4 Apr 05:00</text>
<text transform="translate(1156.2 670) scale(0.96 1)">11 Apr 05:00</text>
<text transform="translate(1220.2 670) scale(0.96 1)">17 Apr 05:00</text>
<text transform="translate(1284.2 670) scale(0.96 1)">21 Apr 05:00</text>
</g>
</svg></body></html>
